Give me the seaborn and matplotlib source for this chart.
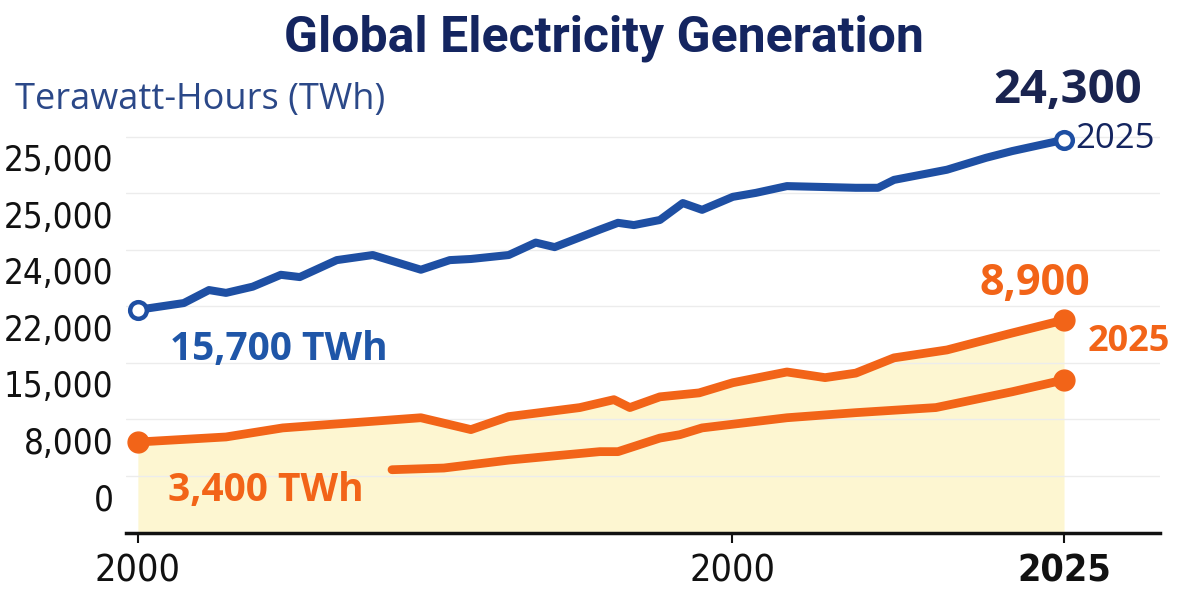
import numpy as np
import pandas as pd
import matplotlib
matplotlib.use('Agg')
import matplotlib.pyplot as plt
from matplotlib import font_manager
import seaborn as sns

# values; y is in "label slots" (0 = '0', 6 = top '25,000')
blue_yr = [2000.00, 2001.24, 2001.92, 2002.38, 2003.10, 2003.86, 2004.37, 2005.37, 2006.34,
           2007.64, 2008.42, 2008.99, 2010.01, 2010.74, 2011.25, 2011.88, 2012.47, 2012.96,
           2013.39, 2014.09, 2014.71, 2015.23, 2016.06, 2016.68, 2017.52, 2019.38, 2019.98,
           2020.41, 2021.84, 2022.89, 2023.60, 2025.00]
blue_lvl = [3.31, 3.43, 3.66, 3.61, 3.72, 3.93, 3.89, 4.19, 4.28,
            4.02, 4.19, 4.21, 4.28, 4.50, 4.42, 4.58, 4.73, 4.85,
            4.81, 4.90, 5.20, 5.08, 5.31, 5.38, 5.50, 5.47, 5.47,
            5.61, 5.79, 6.00, 6.12, 6.32]

orange_yr = [2000.00, 2002.38, 2003.91, 2007.64, 2008.99, 2010.01, 2011.93, 2012.85, 2013.28,
             2014.09, 2015.15, 2016.06, 2017.52, 2018.55, 2019.38, 2020.41, 2021.84, 2023.60, 2025.00]
orange_lvl = [0.97, 1.06, 1.22, 1.40, 1.19, 1.42, 1.58, 1.72, 1.58,
              1.77, 1.84, 2.02, 2.21, 2.11, 2.19, 2.46, 2.60, 2.90, 3.13]

low_yr = [2006.86, 2008.26, 2010.01, 2012.47, 2012.96, 2014.09, 2014.63, 2015.23, 2017.52,
          2019.38, 2021.54, 2023.60, 2025.00]
low_lvl = [0.48, 0.51, 0.65, 0.80, 0.80, 1.04, 1.10, 1.22, 1.40,
           1.49, 1.58, 1.86, 2.07]

ytick_labels = ['0', '8,000', '15,000', '22,000', '24,000', '25,000', '25,000']
xtick_pos = [2000, 2016.04, 2025]
xtick_labels = ['2000', '2000', '2025']

BLUE = '#1e4fa3'
NAVY = '#142560'
ORANGE = '#f26418'
YELLOW = '#fdf5c9'

sns.set_theme(style='white')
plt.rcParams['font.family'] = ['Open Sans', 'DejaVu Sans']

# tick labels in the reference use a narrow face; take one if the box has it
cond = [f for f in font_manager.fontManager.ttflist
        if f.stretch == 'condensed' and f.style == 'normal']
cond_reg = [f for f in cond if f.weight in (400, 'normal', 'regular', 'book')]
cond_bold = [f for f in cond if f.weight in (700, 'bold')]
if cond_reg:
    y_fp = font_manager.FontProperties(fname=cond_reg[0].fname, size=25)
    x_fp = font_manager.FontProperties(fname=cond_reg[0].fname, size=27)
    bold_fp = font_manager.FontProperties(fname=(cond_bold or cond_reg)[0].fname, size=27,
                                          weight='bold')
else:
    y_fp = font_manager.FontProperties(family='Roboto', size=26)
    x_fp = font_manager.FontProperties(family='Roboto', size=27)
    bold_fp = font_manager.FontProperties(family='Roboto', size=27, weight='bold')

fig = plt.figure(figsize=(11.81, 6.05), dpi=100)
ax = fig.add_axes([126 / 1181, 72 / 605, 1034 / 1181, 413 / 605])

blue = pd.DataFrame({'year': blue_yr, 'lvl': blue_lvl})
orange = pd.DataFrame({'year': orange_yr, 'lvl': orange_lvl})
low = pd.DataFrame({'year': low_yr, 'lvl': low_lvl})

ax.set_ylim(-0.64, 6.67)
ax.set_xlim(1999.68, 2027.59)

# yellow area under the orange line
ax.fill_between(orange['year'], orange['lvl'], -0.64, color=YELLOW, alpha=0.85, lw=0, zorder=1)

# faint gridlines sit a bit above each label
for t in range(7):
    ax.axhline(t + 0.37, color='#ececec', lw=1, zorder=2)

sns.lineplot(data=blue, x='year', y='lvl', color=BLUE, lw=5.8, ax=ax, zorder=4)
sns.lineplot(data=orange, x='year', y='lvl', color=ORANGE, lw=6.3, ax=ax, zorder=4)
sns.lineplot(data=low, x='year', y='lvl', color=ORANGE, lw=6.3, ax=ax, zorder=4)

# end markers
ax.plot([blue_yr[0], blue_yr[-1]], [blue_lvl[0], blue_lvl[-1]], 'o', ms=12, mfc='white',
        mec=BLUE, mew=3.2, zorder=5)
ax.plot([orange_yr[0], orange_yr[-1]], [orange_lvl[0], orange_lvl[-1]], 'o', ms=15,
        color=ORANGE, zorder=5)
ax.plot([low_yr[-1]], [low_lvl[-1]], 'o', ms=15, color=ORANGE, zorder=5)

# annotations
def note(txt, x, y, dx, dy, color, size, weight, ha):
    ax.annotate(txt, (x, y), xytext=(dx, dy), textcoords='offset pixels', ha=ha,
                va='center', color=color, fontsize=size, fontweight=weight,
                annotation_clip=False, zorder=6)

note('24,300', blue_yr[-1], blue_lvl[-1], 3, 49, '#1a2450', 34, 'bold', 'center')
note('2025', blue_yr[-1], blue_lvl[-1], 11, 1, NAVY, 25, 'normal', 'left')
note('15,700 TWh', blue_yr[0], blue_lvl[0], 32, -40, '#1f56a8', 28, 'bold', 'left')
note('8,900', orange_yr[-1], orange_lvl[-1], -29, 37, ORANGE, 31, 'bold', 'center')
note('2025', orange_yr[-1], orange_lvl[-1], 24, -22, ORANGE, 26, 'bold', 'left')
note('3,400 TWh', orange_yr[0], orange_lvl[0], 30, -48, ORANGE, 28, 'bold', 'left')

# axes styling
ax.set_xlabel('')
ax.set_ylabel('')
ax.set_yticks(range(7))
ax.set_yticklabels(ytick_labels, fontproperties=y_fp, color='#111111')
ax.tick_params(axis='y', length=0, pad=9)
ax.set_xticks(xtick_pos)
ax.set_xticklabels(xtick_labels, fontproperties=x_fp, color='#111111')
ax.get_xticklabels()[-1].set_fontproperties(bold_fp)
ax.tick_params(axis='x', length=7, width=1.5, direction='out', color='#111111', pad=8,
               bottom=True)
for side in ['left', 'right', 'top']:
    ax.spines[side].set_visible(False)
ax.spines['bottom'].set_color('#111111')
ax.spines['bottom'].set_linewidth(2.5)
ax.grid(False)

fig.text(604 / 1181, 1 - 52 / 605, 'Global Electricity Generation', ha='center', va='baseline',
         fontsize=36, fontweight='bold', color=NAVY, family=['Roboto', 'DejaVu Sans'])
fig.text(15 / 1181, 1 - 100 / 605, 'Terawatt-Hours (TWh)', ha='left', va='center',
         fontsize=26, color='#2b4888')

fig.savefig('out.png', dpi=100)
